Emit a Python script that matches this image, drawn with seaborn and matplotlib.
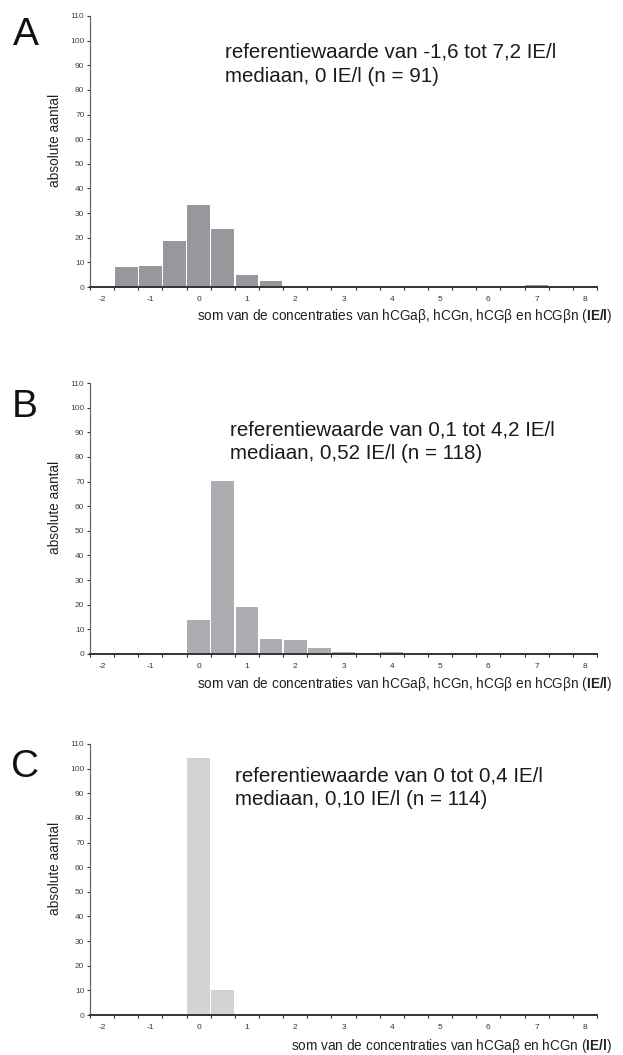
import matplotlib
matplotlib.use('Agg')
import matplotlib.pyplot as plt
import seaborn as sns
import numpy as np
import pandas as pd

# Histogrammen hCG-concentraties (IE/l), bins van 0,5 IE/l
centres_a = [-1.5, -1.0, -0.5, 0.0, 0.5, 1.0, 1.5, 7.0]
counts_a = [8, 8.6, 18.5, 33.3, 23.4, 4.9, 2.5, 1.0]
centres_b = [0.0, 0.5, 1.0, 1.5, 2.0, 2.5, 3.0, 4.0]
counts_b = [13.9, 70.2, 19.2, 6.2, 5.8, 2.6, 0.8, 0.7]
centres_c = [0.0, 0.5]
counts_c = [104.5, 10.3]

letters = ['A', 'B', 'C']
notes = [
    ['referentiewaarde van -1,6 tot 7,2 IE/l', 'mediaan, 0 IE/l (n = 91)'],
    ['referentiewaarde van 0,1 tot 4,2 IE/l', 'mediaan, 0,52 IE/l (n = 118)'],
    ['referentiewaarde van 0 tot 0,4 IE/l', 'mediaan, 0,10 IE/l (n = 114)'],
]
xlabels = [
    r'som van de concentraties van hCGaβ, hCGn, hCGβ en hCGβn ($\mathbf{IE/l}$)',
    r'som van de concentraties van hCGaβ, hCGn, hCGβ en hCGβn ($\mathbf{IE/l}$)',
    r'som van de concentraties van hCGaβ en hCGn ($\mathbf{IE/l}$)',
]
ylabel = 'absolute aantal'
xtick_labels = [str(v) for v in range(-2, 9)]
ytick_values = list(range(0, 111, 10))

colors = ['#97989b', '#acadb0', '#d2d3d5']

sns.set_theme(style='ticks')
plt.rcParams['font.family'] = ['Liberation Sans', 'DejaVu Sans']
plt.rcParams['mathtext.fontset'] = 'custom'
plt.rcParams['mathtext.rm'] = 'Liberation Sans'
plt.rcParams['mathtext.bf'] = 'Liberation Sans:bold'

W, H = 623, 1055
fig = plt.figure(figsize=(W / 100, H / 100), dpi=100)

edges = np.arange(-2.25, 8.26, 0.5)
panels = [(centres_a, counts_a), (centres_b, counts_b), (centres_c, counts_c)]
bottoms = [287, 654, 1015]
note_pos = [(225, 58, 82), (230, 435, 459), (235, 782, 805)]
letter_pos = [(26, 45), (25, 417), (25, 777)]
xlabel_base = [320, 688, 1050]

for i, (centres, counts) in enumerate(panels):
    bot = bottoms[i]
    ax = fig.add_axes([90 / W, 1 - bot / H, 507 / W, 271 / H])
    df = pd.DataFrame({'x': centres, 'n': counts})
    sns.histplot(data=df, x='x', weights='n', binwidth=0.5, binrange=(-2.25, 8.25),
                 shrink=0.94, color=colors[i], alpha=1, linewidth=0, ax=ax)

    ax.set_xlim(-2.25, 8.25)
    ax.set_ylim(0, 110)
    ax.set_xticks(range(-2, 9))
    ax.set_xticklabels(xtick_labels)
    ax.set_xticks(edges, minor=True)
    ax.set_yticks(ytick_values)
    ax.tick_params(axis='x', which='major', length=0, pad=6.5,
                   labelsize=6, labelcolor='#333333')
    ax.tick_params(axis='x', which='minor', length=2.5, width=0.8,
                   color='#333333', direction='out')
    ax.tick_params(axis='y', length=2.5, width=0.8, pad=1.5,
                   labelsize=6, labelcolor='#444444', color='#333333')

    sns.despine(ax=ax)
    ax.spines['left'].set_color('#666666')
    ax.spines['left'].set_linewidth(0.9)
    ax.spines['bottom'].set_color('#333333')
    ax.spines['bottom'].set_linewidth(1.4)

    ax.set_ylabel(ylabel, fontsize=9.8, color='#222222')
    ax.yaxis.label.set_va('center')
    ax.yaxis.set_label_coords(-35 / 507, 0.54)

    ax.set_xlabel(xlabels[i], fontsize=9.8, color='#222222', loc='right')
    ax.xaxis.label.set_va('baseline')
    ax.xaxis.set_label_coords(1.03, -(xlabel_base[i] - bot) / 271)

    nx, b1, b2 = note_pos[i]
    ax.text((nx - 90) / 507, (bot - b1) / 271, notes[i][0], transform=ax.transAxes,
            fontsize=14.8, va='baseline', ha='left', color='#1a1a1a')
    ax.text((nx - 90) / 507, (bot - b2) / 271, notes[i][1], transform=ax.transAxes,
            fontsize=14.8, va='baseline', ha='left', color='#1a1a1a')

    lx, ly = letter_pos[i]
    fig.text(lx / W, 1 - ly / H, letters[i], fontsize=28, ha='center',
             va='baseline', color='#111111')

fig.savefig('out.png', dpi=100)
plt.close(fig)
